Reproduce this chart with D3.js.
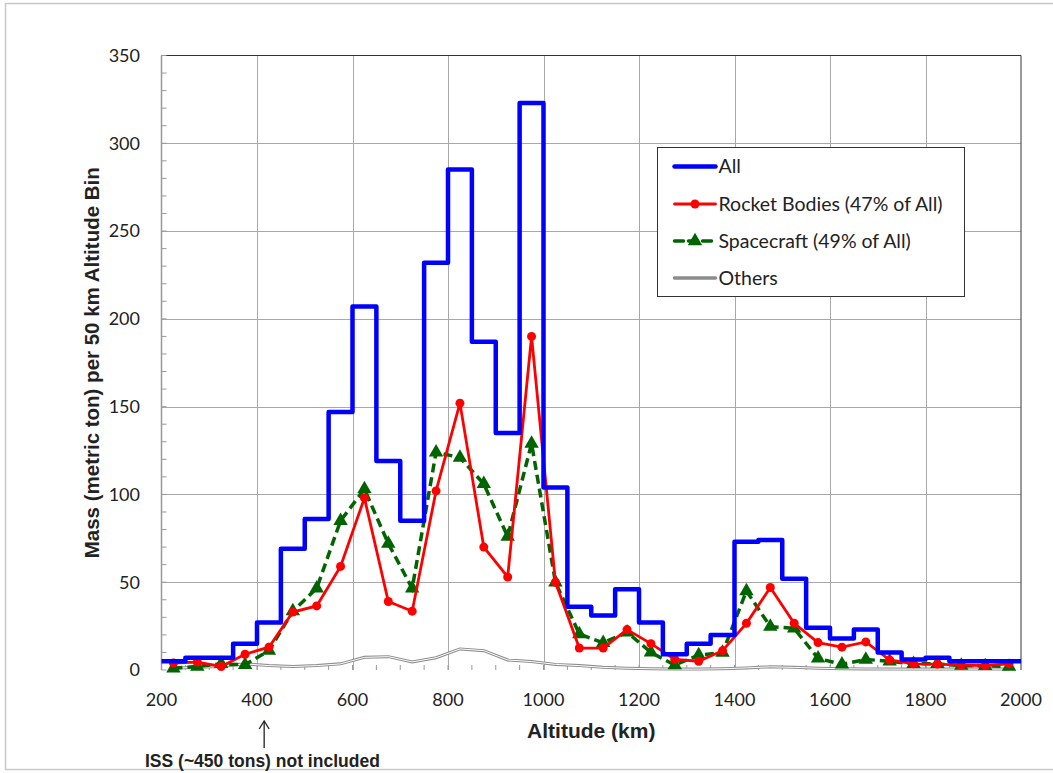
<!DOCTYPE html>
<html>
<head>
<meta charset="utf-8">
<script src="https://cdn.jsdelivr.net/npm/d3@7"></script>
<style>
  body { margin: 0; background: #fff; }
  svg { display: block; }
</style>
</head>
<body>
<div class="chart-container"></div>
<script>
// bin edges (km), 50 km bins from 200 to 2000
const binStarts = d3.range(200, 2000, 50);
const binCenters = binStarts.map(d => d + 25);

// mass per bin (metric tons)
const allMass = [5, 7, 7, 15, 27, 69, 86, 147, 207, 119, 85, 232, 285, 187, 135, 323, 104, 36,
  31, 46, 27, 9, 15, 20, 73, 74, 52, 24, 18, 23, 10, 6, 7, 5, 5, 5];
const rocketMass = [4, 4.5, 2, 9, 13, 33, 36.5, 59, 98, 39, 33.5, 102, 152, 70, 53, 190, 50, 12.5,
  12.5, 23, 15, 6, 5, 11, 26.6, 47, 26.6, 15.6, 13, 16, 5.7, 3.5, 3.4, 2.8, 2.5, 3.5];
const spacecraftMass = [1, 2, 3.5, 3, 11, 33.5, 46.5, 85, 103, 72, 46.5, 124, 121, 106, 76, 129, 50, 20.5,
  15.5, 21.5, 10, 2.8, 8.5, 9.9, 45, 24.7, 23.7, 6.6, 3.2, 6, 5, 3.5, 3.5, 2.5, 2.3, 2];
const otherMass = [1, 1.5, 2, 3.5, 2.5, 2, 2.5, 3.5, 7.2, 7.6, 4.6, 7, 12, 11, 5.7, 4.8, 3.2, 2.5,
  1.5, 1, 0.7, 0.5, 0.5, 0.7, 1.2, 1.8, 1.5, 1, 0.7, 0.6, 0.5, 0.5, 0.5, 0.5, 0.5, 0.5];

const xTicks = [200, 400, 600, 800, 1000, 1200, 1400, 1600, 1800, 2000];
const yTicks = [0, 50, 100, 150, 200, 250, 300, 350];

const seriesNames = ['All', 'Rocket Bodies (47% of All)', 'Spacecraft (49% of All)', 'Others'];

const width = 1053;
const height = 773;
const margin = { left: 161.5, right: 32, top: 55.5, bottom: 103 };

const x = d3.scaleLinear().domain([200, 2000]).range([margin.left, width - margin.right]);
const y = d3.scaleLinear().domain([0, 350]).range([height - margin.bottom, margin.top]);

const tickFont = 'Lato, "Open Sans", sans-serif';
const boldFont = '"Liberation Sans", Arial, sans-serif';

const svg = d3.select('.chart-container')
  .append('svg')
  .attr('width', width)
  .attr('height', height)
  .attr('viewBox', [0, 0, width, height]);

// chart area border
svg.append('rect')
  .attr('x', 5.5).attr('y', 3.5)
  .attr('width', 1100).attr('height', 766)
  .attr('fill', 'none')
  .attr('stroke', '#c8c8c8')
  .attr('stroke-width', 1.5);

// grid
svg.append('g')
  .selectAll('line')
  .data(yTicks.slice(1, -1))
  .join('line')
    .attr('x1', x(200)).attr('x2', x(2000))
    .attr('y1', d => Math.round(y(d)) + 0.5).attr('y2', d => Math.round(y(d)) + 0.5)
    .attr('stroke', '#a9a9a9');

svg.append('g')
  .selectAll('line')
  .data(xTicks.slice(1, -1))
  .join('line')
    .attr('y1', y(0)).attr('y2', y(350))
    .attr('x1', d => Math.round(x(d)) + 0.5).attr('x2', d => Math.round(x(d)) + 0.5)
    .attr('stroke', '#a9a9a9');

// plot border: top and right dark, left and bottom gray axes
svg.append('line')
  .attr('x1', x(200)).attr('x2', x(2000))
  .attr('y1', y(350)).attr('y2', y(350))
  .attr('stroke', '#333').attr('stroke-width', 1);
svg.append('line')
  .attr('x1', x(2000)).attr('x2', x(2000))
  .attr('y1', y(350)).attr('y2', y(0))
  .attr('stroke', '#555').attr('stroke-width', 1.2);
svg.append('line')
  .attr('x1', x(200)).attr('x2', x(200))
  .attr('y1', y(350)).attr('y2', y(0))
  .attr('stroke', '#999').attr('stroke-width', 1.5);

// minor ticks (inward)
svg.append('g')
  .selectAll('line')
  .data(d3.range(0, 351, 10))
  .join('line')
    .attr('x1', x(200)).attr('x2', x(200) + 5)
    .attr('y1', d => y(d)).attr('y2', d => y(d))
    .attr('stroke', '#999');
svg.append('g')
  .selectAll('line')
  .data(d3.range(200, 2001, 50))
  .join('line')
    .attr('x1', d => x(d)).attr('x2', d => x(d))
    .attr('y1', y(0)).attr('y2', y(0) - 5)
    .attr('stroke', '#999');

// axis labels
svg.append('g')
  .selectAll('text')
  .data(yTicks)
  .join('text')
    .attr('x', 140)
    .attr('y', d => y(d))
    .attr('dy', '0.35em')
    .attr('text-anchor', 'end')
    .attr('font-family', tickFont)
    .attr('font-size', '18px')
    .attr('fill', '#222')
    .text(d => d);

svg.append('g')
  .selectAll('text')
  .data(xTicks)
  .join('text')
    .attr('x', d => x(d))
    .attr('y', y(0) + 36)
    .attr('text-anchor', 'middle')
    .attr('font-family', tickFont)
    .attr('font-size', '18px')
    .attr('fill', '#222')
    .text(d => d);

svg.append('text')
  .attr('transform', `translate(99,${(y(0) + y(350)) / 2}) rotate(-90)`)
  .attr('text-anchor', 'middle')
  .attr('font-family', boldFont)
  .attr('font-weight', 'bold')
  .attr('font-size', '20.5px')
  .attr('fill', '#222')
  .text('Mass (metric ton) per 50 km Altitude Bin');

svg.append('text')
  .attr('x', (x(200) + x(2000)) / 2)
  .attr('y', 738)
  .attr('text-anchor', 'middle')
  .attr('font-family', boldFont)
  .attr('font-weight', 'bold')
  .attr('font-size', '21px')
  .attr('fill', '#222')
  .text('Altitude (km)');

// ISS note with arrow
const arrowX = x(415);
svg.append('line')
  .attr('x1', arrowX).attr('x2', arrowX)
  .attr('y1', 748).attr('y2', 722)
  .attr('stroke', '#222').attr('stroke-width', 1.3);
svg.append('path')
  .attr('d', `M${arrowX - 5},${729} L${arrowX},${721} L${arrowX + 5},${729}`)
  .attr('fill', 'none')
  .attr('stroke', '#222').attr('stroke-width', 1.3);
svg.append('text')
  .attr('x', 145)
  .attr('y', 767)
  .attr('font-family', boldFont)
  .attr('font-weight', 'bold')
  .attr('font-size', '17.5px')
  .attr('fill', '#222')
  .text('ISS (~450 tons) not included');

// series
const line = d3.line()
  .x((d, i) => x(binCenters[i]))
  .y(d => y(d));

// Others: gray line with white core (double-line look)
svg.append('path')
  .datum(otherMass)
  .attr('d', line)
  .attr('fill', 'none')
  .attr('stroke', '#8c8c8c')
  .attr('stroke-width', 3);
svg.append('path')
  .datum(otherMass)
  .attr('d', line)
  .attr('fill', 'none')
  .attr('stroke', '#fff')
  .attr('stroke-width', 1);

// Spacecraft
svg.append('path')
  .datum(spacecraftMass)
  .attr('d', line)
  .attr('fill', 'none')
  .attr('stroke', '#006400')
  .attr('stroke-width', 3.5)
  .attr('stroke-dasharray', '9,5');
const tri = d3.symbol().type(d3.symbolTriangle).size(90);
svg.append('g')
  .selectAll('path')
  .data(spacecraftMass)
  .join('path')
    .attr('d', tri)
    .attr('transform', (d, i) => `translate(${x(binCenters[i])},${y(d)})`)
    .attr('fill', '#006400');

// Rocket bodies
svg.append('path')
  .datum(rocketMass)
  .attr('d', line)
  .attr('fill', 'none')
  .attr('stroke', '#ff0000')
  .attr('stroke-width', 2.8);
svg.append('g')
  .selectAll('circle')
  .data(rocketMass)
  .join('circle')
    .attr('cx', (d, i) => x(binCenters[i]))
    .attr('cy', d => y(d))
    .attr('r', 4.5)
    .attr('fill', '#ff0000');

// All: step histogram
const stepPts = [];
allMass.forEach((v, i) => {
  stepPts.push([binStarts[i], v]);
  stepPts.push([binStarts[i] + 50, v]);
});
svg.append('path')
  .datum(stepPts)
  .attr('d', d3.line().x(d => x(d[0])).y(d => y(d[1])))
  .attr('fill', 'none')
  .attr('stroke', '#0000ff')
  .attr('stroke-width', 4.5)
  .attr('stroke-linejoin', 'round');

// legend
const legend = svg.append('g').attr('transform', 'translate(657.5,147.5)');
legend.append('rect')
  .attr('width', 307).attr('height', 149)
  .attr('fill', '#fff')
  .attr('stroke', '#333')
  .attr('stroke-width', 1);

const rowY = [19, 56.5, 93.5, 130.5];
const rows = legend.selectAll('g.row')
  .data(seriesNames)
  .join('g')
    .attr('class', 'row')
    .attr('transform', (d, i) => `translate(0,${rowY[i]})`);

rows.append('line')
  .attr('x1', 17).attr('x2', 58)
  .attr('stroke', (d, i) => ['#0000ff', '#ff0000', '#006400', '#8c8c8c'][i])
  .attr('stroke-width', (d, i) => [4.5, 2.8, 3.5, 3.5][i])
  .attr('stroke-dasharray', (d, i) => i === 2 ? '9,5' : null)
  .attr('stroke-linecap', 'round');

legend.append('circle')
  .attr('cx', 37.5).attr('cy', rowY[1]).attr('r', 4.5)
  .attr('fill', '#ff0000');
legend.append('path')
  .attr('d', tri)
  .attr('transform', `translate(37.5,${rowY[2]})`)
  .attr('fill', '#006400');

rows.append('text')
  .attr('x', 61)
  .attr('dy', '0.35em')
  .attr('font-family', tickFont)
  .attr('font-size', '19.5px')
  .attr('fill', '#222')
  .text(d => d);
</script>
</body>
</html>
